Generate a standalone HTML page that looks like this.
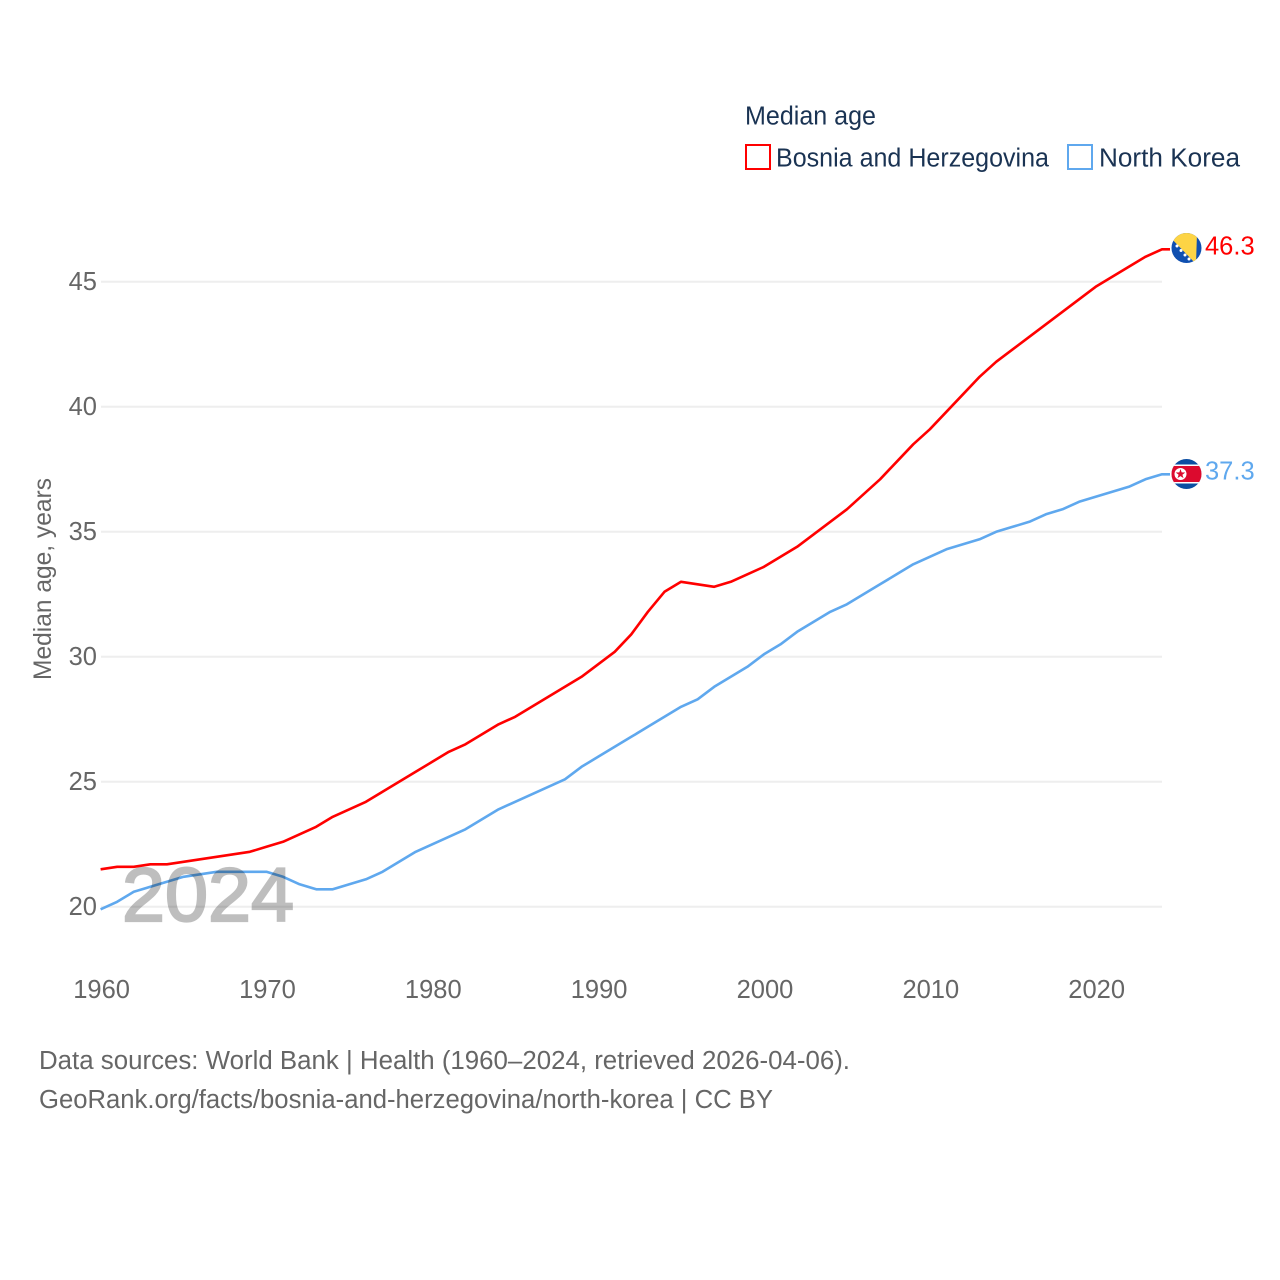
<!DOCTYPE html>
<html lang="en">
<head>
<meta charset="utf-8">
<title>Median age: Bosnia and Herzegovina vs North Korea</title>
<style>
html,body{margin:0;padding:0;background:#fff;width:1280px;height:1280px;overflow:hidden}
svg{display:block}
text{font-family:"Liberation Sans",sans-serif}
</style>
</head>
<body>
<svg id="chart" width="1280" height="1280" viewBox="0 0 1280 1280" xmlns="http://www.w3.org/2000/svg">
  <g id="grid"></g>
  <g id="yticks"></g>
  <g id="xticks"></g>
  <text transform="translate(51,680) rotate(-90)" font-size="25" fill="#666" textLength="202" lengthAdjust="spacingAndGlyphs">Median age, years</text>
  <g id="series"></g>
  <text x="122" y="921" font-size="76" fill="#000" stroke="#000" stroke-width="2.2" opacity="0.25" textLength="172" lengthAdjust="spacingAndGlyphs">2024</text>

  <text x="745" y="124.5" font-size="25.5" fill="#1a3353" textLength="131" lengthAdjust="spacingAndGlyphs">Median age</text>
  <g>
    <rect x="746" y="145" width="24" height="24" fill="#fff" stroke="#ff0000" stroke-width="2"/>
    <text x="776" y="166.5" font-size="25.5" fill="#1a3353" textLength="273" lengthAdjust="spacingAndGlyphs">Bosnia and Herzegovina</text>
  </g>
  <g>
    <rect x="1068" y="145" width="24" height="24" fill="#fff" stroke="#5fa8ee" stroke-width="2"/>
    <text x="1099" y="166.5" font-size="25.5" fill="#1a3353" textLength="141" lengthAdjust="spacingAndGlyphs">North Korea</text>
  </g>

  <g id="flag-ba">
    <clipPath id="clip-ba"><circle cx="1186.5" cy="248" r="15"/></clipPath>
    <g clip-path="url(#clip-ba)">
      <rect x="1171" y="233" width="31" height="30" fill="#0f4fb0"/>
      <polygon points="1166,233 1197,233 1196,264" fill="#fdd445"/>
      <g fill="#fff">
        <circle cx="1177" cy="246" r="1.5"/><circle cx="1181" cy="250.5" r="1.5"/>
        <circle cx="1185" cy="255" r="1.5"/><circle cx="1189" cy="259" r="1.5"/>
      </g>
    </g>
  </g>
  <g id="flag-kp">
    <clipPath id="clip-kp"><circle cx="1186.5" cy="474" r="15"/></clipPath>
    <g clip-path="url(#clip-kp)">
      <rect x="1171" y="459" width="31" height="30" fill="#0b4ea2"/>
      <rect x="1171" y="464.5" width="31" height="19" fill="#fff"/>
      <rect x="1171" y="466" width="31" height="16" fill="#dc0a2e"/>
      <circle cx="1180.5" cy="474" r="6" fill="#fff"/>
      <polygon points="1180.5,469 1181.7,472.4 1185.3,472.5 1182.4,474.7 1183.5,478.1 1180.5,476.1 1177.5,478.1 1178.6,474.7 1175.7,472.5 1179.3,472.4" fill="#dc0a2e"/>
    </g>
  </g>

  <text x="39" y="1069" font-size="25.5" fill="#666" textLength="811" lengthAdjust="spacingAndGlyphs">Data sources: World Bank | Health (1960–2024, retrieved 2026-04-06).</text>
  <text x="39" y="1108" font-size="25.5" fill="#666" textLength="734" lengthAdjust="spacingAndGlyphs">GeoRank.org/facts/bosnia-and-herzegovina/north-korea | CC BY</text>
</svg>
<script>
const startYear = 1960;
const yTickValues = [20, 25, 30, 35, 40, 45];
const xTickValues = [1960, 1970, 1980, 1990, 2000, 2010, 2020];
const bosniaValues = [21.5,21.6,21.6,21.7,21.7,21.8,21.9,22.0,22.1,22.2,22.4,22.6,22.9,23.2,23.6,23.9,24.2,24.6,25.0,25.4,25.8,26.2,26.5,26.9,27.3,27.6,28.0,28.4,28.8,29.2,29.7,30.2,30.9,31.8,32.6,33.0,32.9,32.8,33.0,33.3,33.6,34.0,34.4,34.9,35.4,35.9,36.5,37.1,37.8,38.5,39.1,39.8,40.5,41.2,41.8,42.3,42.8,43.3,43.8,44.3,44.8,45.2,45.6,46.0,46.3];
const northKoreaValues = [19.9,20.2,20.6,20.8,21.0,21.2,21.3,21.4,21.4,21.4,21.4,21.2,20.9,20.7,20.7,20.9,21.1,21.4,21.8,22.2,22.5,22.8,23.1,23.5,23.9,24.2,24.5,24.8,25.1,25.6,26.0,26.4,26.8,27.2,27.6,28.0,28.3,28.8,29.2,29.6,30.1,30.5,31.0,31.4,31.8,32.1,32.5,32.9,33.3,33.7,34.0,34.3,34.5,34.7,35.0,35.2,35.4,35.7,35.9,36.2,36.4,36.6,36.8,37.1,37.3];

const NS = 'http://www.w3.org/2000/svg';
function xScale(year) { return 100.6 + (year - 1960) * (1162 - 100.6) / 64; }
function yScale(v) { return 906.8 - (v - 20) * 25; }
function make(tag, attrs, parent) {
  const el = document.createElementNS(NS, tag);
  for (const k in attrs) el.setAttribute(k, attrs[k]);
  parent.appendChild(el);
  return el;
}

const gridG = document.getElementById('grid');
const yG = document.getElementById('yticks');
yTickValues.forEach(function (v) {
  const line = make('line', {x1: 101, x2: 1162, y1: yScale(v), y2: yScale(v), stroke: '#eeeeee', 'stroke-width': 2}, gridG);
  
  
  const t = make('text', {x: 97, y: yScale(v) + 8.4, 'text-anchor': 'end', 'font-size': 25.5, fill: '#666'}, yG);
  
  
  t.textContent = v;
});

const xG = document.getElementById('xticks');
xTickValues.forEach(function (yr) {
  const t = make('text', {x: xScale(yr) + 1, y: 998, 'text-anchor': 'middle', 'font-size': 25.5, fill: '#666'}, xG);
  
  
  t.textContent = yr;
});

function drawSeries(values, color, lineName, labelName, flagId, flagBaseY) {
  const g = document.getElementById('series');
  const pts = values.map(function (v, i) { return xScale(startYear + i).toFixed(2) + ',' + yScale(v).toFixed(2); });
  const lastV = values[values.length - 1];
  pts.push('1170,' + yScale(lastV).toFixed(2));
  const line = make('polyline', {points: pts.join(' '), fill: 'none', stroke: color, 'stroke-width': 2.6, 'stroke-linejoin': 'round'}, g);
  
  
  const label = make('text', {x: 1205, y: yScale(lastV) + 5, 'font-size': 25.5, fill: color}, document.getElementById('chart'));
  
  
  label.textContent = lastV.toFixed(1);
  document.getElementById(flagId).setAttribute('transform', 'translate(0,' + (yScale(lastV) - flagBaseY) + ')');
}
drawSeries(bosniaValues, '#ff0000', 'line-bosnia', 'end-value-bosnia', 'flag-ba', 249.3);
drawSeries(northKoreaValues, '#5fa8ee', 'line-north-korea', 'end-value-north-korea', 'flag-kp', 474.3);
</script>
</body>
</html>
